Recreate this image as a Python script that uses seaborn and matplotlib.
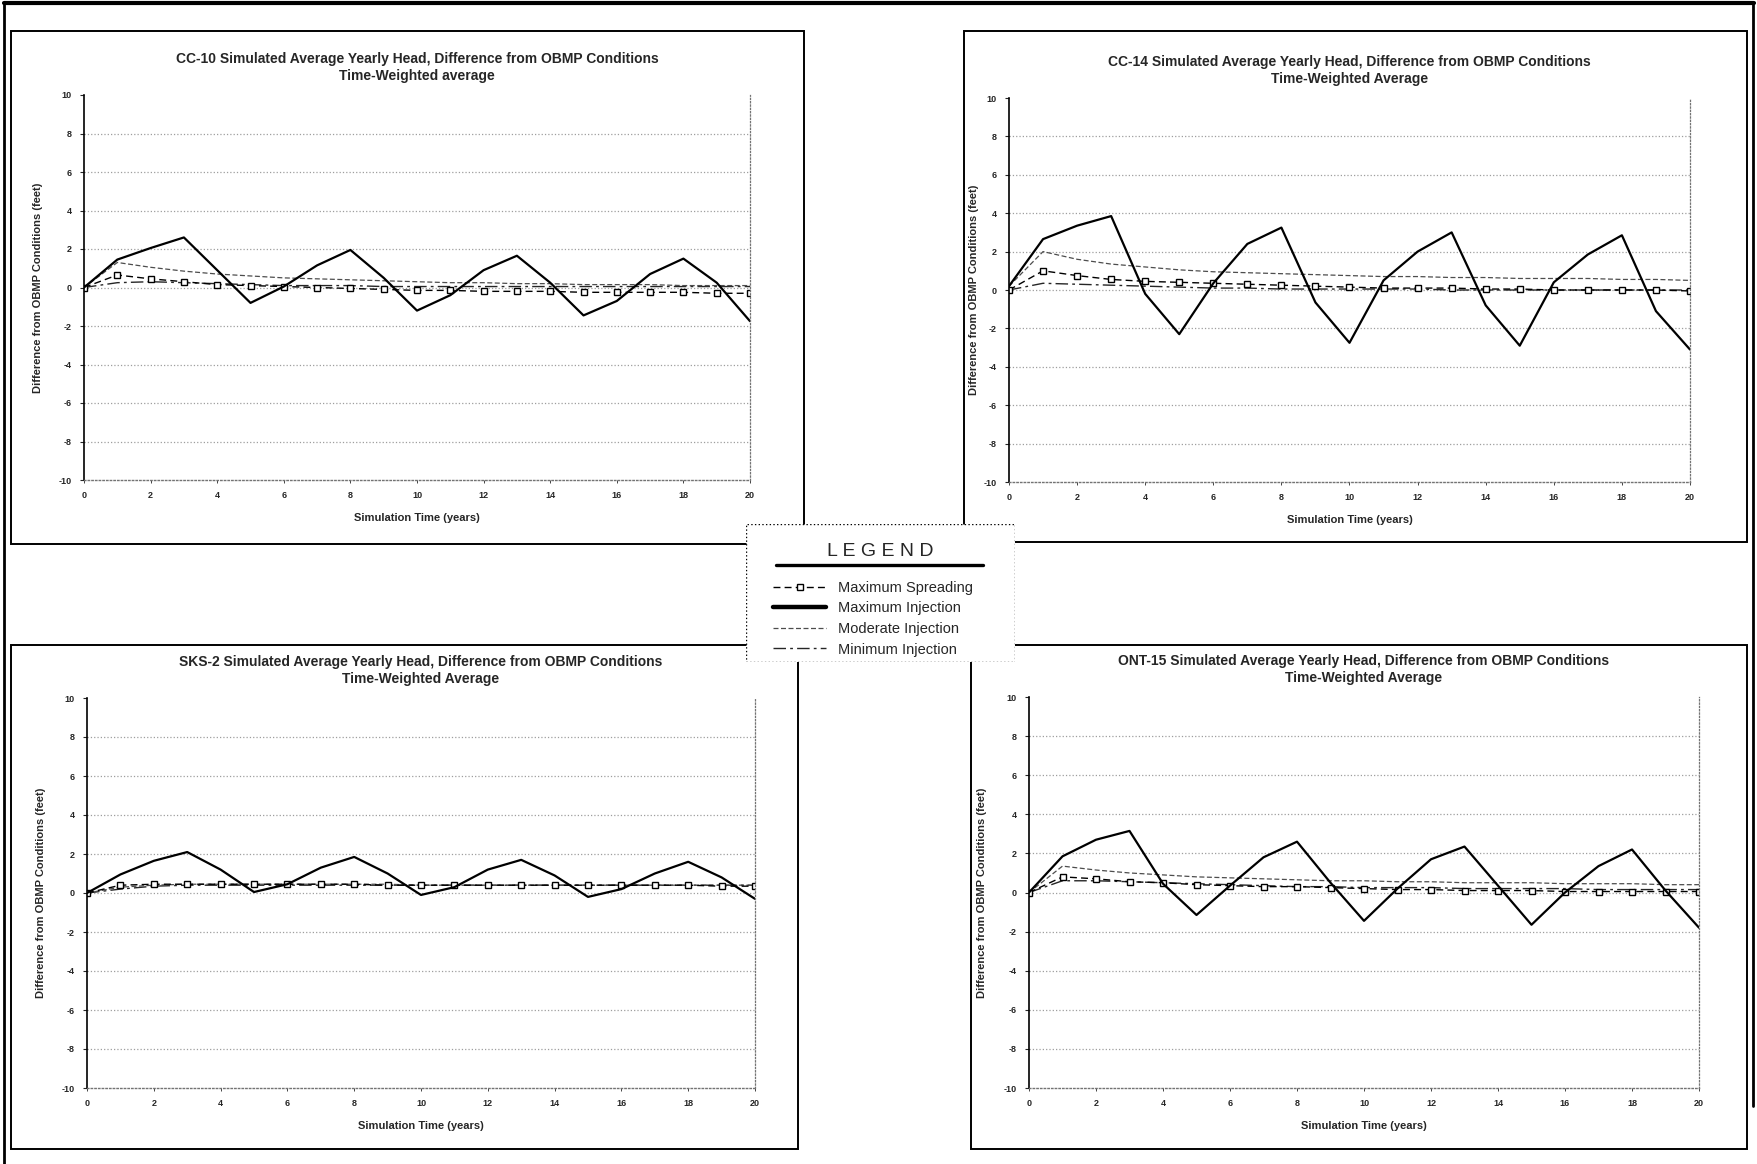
import matplotlib
matplotlib.use("Agg")
import matplotlib.pyplot as plt
import matplotlib.lines as mlines
from matplotlib.patches import Rectangle
import seaborn as sns

# --- data (feet, difference from OBMP) ---
years = list(range(21))
x_ticks = list(range(0, 21, 2))
y_ticks = list(range(-10, 11, 2))

cc10_max_spread = [0.0, 0.65, 0.45, 0.3, 0.15, 0.1, 0.05, 0.0, -0.05, -0.1, -0.15,
                   -0.15, -0.2, -0.2, -0.2, -0.25, -0.25, -0.25, -0.25, -0.3, -0.3]
cc10_max_inj = [0.0, 1.45, 2.05, 2.6, 0.9, -0.8, 0.05, 1.15, 1.95, 0.5, -1.2,
                -0.4, 0.9, 1.65, 0.25, -1.45, -0.7, 0.7, 1.5, 0.25, -1.75]
cc10_mod_inj = [0.0, 1.3, 1.05, 0.85, 0.7, 0.6, 0.5, 0.45, 0.4, 0.35, 0.3,
                0.25, 0.25, 0.2, 0.2, 0.15, 0.15, 0.15, 0.1, 0.1, 0.1]
cc10_min_inj = [0.0, 0.25, 0.3, 0.25, 0.2, 0.15, 0.1, 0.1, 0.1, 0.05, 0.05,
                0.05, 0.05, 0.05, 0.05, 0.05, 0.05, 0.05, 0.05, 0.05, 0.05]

cc14_max_spread = [0.0, 1.0, 0.75, 0.55, 0.45, 0.4, 0.35, 0.3, 0.25, 0.2, 0.15,
                   0.1, 0.1, 0.1, 0.05, 0.05, 0.0, 0.0, 0.0, 0.0, -0.05]
cc14_max_inj = [0.2, 2.65, 3.35, 3.85, -0.2, -2.3, 0.35, 2.4, 3.25, -0.65, -2.75,
                0.5, 2.0, 3.0, -0.8, -2.9, 0.4, 1.85, 2.85, -1.1, -3.1]
cc14_mod_inj = [0.2, 2.0, 1.6, 1.35, 1.2, 1.05, 0.95, 0.9, 0.85, 0.8, 0.75,
                0.7, 0.7, 0.65, 0.65, 0.6, 0.6, 0.6, 0.55, 0.55, 0.5]
cc14_min_inj = [0.0, 0.35, 0.3, 0.25, 0.2, 0.15, 0.1, 0.1, 0.05, 0.05, 0.05,
                0.05, 0.05, 0.0, 0.0, 0.0, 0.0, 0.0, 0.0, 0.0, 0.0]

sks2_max_spread = [0.0, 0.4, 0.45, 0.45, 0.45, 0.45, 0.45, 0.45, 0.45, 0.4, 0.4,
                   0.4, 0.4, 0.4, 0.4, 0.4, 0.4, 0.4, 0.4, 0.35, 0.35]
sks2_max_inj = [0.0, 0.95, 1.65, 2.1, 1.2, 0.05, 0.45, 1.3, 1.85, 1.0, -0.1,
                0.3, 1.2, 1.7, 0.9, -0.2, 0.2, 1.0, 1.6, 0.8, -0.3]
sks2_mod_inj = [0.0, 0.3, 0.4, 0.45, 0.45, 0.45, 0.45, 0.45, 0.45, 0.45, 0.4,
                0.4, 0.4, 0.4, 0.4, 0.4, 0.4, 0.4, 0.4, 0.4, 0.4]
sks2_min_inj = [0.0, 0.2, 0.35, 0.4, 0.4, 0.4, 0.4, 0.4, 0.4, 0.4, 0.4,
                0.4, 0.4, 0.4, 0.4, 0.4, 0.4, 0.4, 0.4, 0.4, 0.4]

ont15_max_spread = [0.0, 0.8, 0.7, 0.55, 0.5, 0.4, 0.35, 0.3, 0.3, 0.25, 0.2,
                    0.15, 0.15, 0.1, 0.1, 0.1, 0.05, 0.05, 0.05, 0.05, 0.05]
ont15_max_inj = [0.0, 1.85, 2.7, 3.15, 0.45, -1.15, 0.35, 1.8, 2.6, 0.5, -1.45,
                 0.2, 1.7, 2.35, 0.35, -1.65, 0.0, 1.35, 2.2, 0.1, -1.8]
ont15_mod_inj = [0.0, 1.35, 1.15, 1.0, 0.9, 0.8, 0.75, 0.7, 0.65, 0.6, 0.6,
                 0.55, 0.55, 0.5, 0.5, 0.5, 0.45, 0.45, 0.45, 0.4, 0.4]
ont15_min_inj = [0.0, 0.6, 0.6, 0.55, 0.5, 0.45, 0.4, 0.35, 0.3, 0.3, 0.25,
                 0.25, 0.25, 0.2, 0.2, 0.2, 0.2, 0.15, 0.15, 0.15, 0.15]

titles = [
    "CC-10 Simulated Average Yearly Head, Difference from OBMP Conditions\nTime-Weighted average",
    "CC-14 Simulated Average Yearly Head, Difference from OBMP Conditions\nTime-Weighted Average",
    "SKS-2 Simulated Average Yearly Head, Difference from OBMP Conditions\nTime-Weighted Average",
    "ONT-15 Simulated Average Yearly Head, Difference from OBMP Conditions\nTime-Weighted Average",
]
legend_order = ["Maximum Spreading", "Maximum Injection", "Moderate Injection", "Minimum Injection"]

sns.set_theme(style="white")
plt.rcParams['font.family'] = ['Liberation Sans', 'DejaVu Sans']
plt.rcParams['axes.unicode_minus'] = False

fig = plt.figure(figsize=(17.58, 11.64), dpi=100)
W, H = 1758.0, 1164.0


def fig_rect(x0, y0, x1, y1):
    # pixel box (top-left origin) -> figure fraction [l, b, w, h]
    return [x0 / W, 1 - y1 / H, (x1 - x0) / W, (y1 - y0) / H]


axes_boxes = [(84, 95, 750, 480), (1009, 98, 1690, 482),
              (87, 698, 755, 1088), (1029, 697, 1699, 1088)]
frame_boxes = [(11, 31, 804, 544), (964, 31, 1747, 542),
               (11, 645, 798, 1149), (971, 645, 1747, 1149)]
ylabel_pads = [11, 3, 11, 12]
series = [
    (cc10_max_spread, cc10_max_inj, cc10_mod_inj, cc10_min_inj),
    (cc14_max_spread, cc14_max_inj, cc14_mod_inj, cc14_min_inj),
    (sks2_max_spread, sks2_max_inj, sks2_mod_inj, sks2_min_inj),
    (ont15_max_spread, ont15_max_inj, ont15_mod_inj, ont15_min_inj),
]

handles_by_label = {}
for box, title, pad, (spread, max_inj, mod_inj, min_inj) in zip(axes_boxes, titles, ylabel_pads, series):
    ax = fig.add_axes(fig_rect(*box))
    sns.lineplot(x=years, y=min_inj, ax=ax, color='0.15', linewidth=1.0,
                 linestyle=(0, (9, 3, 2, 3)), label='Minimum Injection')
    sns.lineplot(x=years, y=mod_inj, ax=ax, color='0.3', linewidth=0.9,
                 linestyle=(0, (4, 2)), label='Moderate Injection')
    sns.lineplot(x=years, y=spread, ax=ax, color='black', linewidth=1.0,
                 linestyle=(0, (5, 3)), marker='s', markersize=4.5,
                 markerfacecolor='white', markeredgecolor='black',
                 markeredgewidth=1.0, label='Maximum Spreading')
    sns.lineplot(x=years, y=max_inj, ax=ax, color='black', linewidth=1.6,
                 label='Maximum Injection')
    if ax.get_legend() is not None:
        ax.get_legend().remove()
    h, l = ax.get_legend_handles_labels()
    for hh, ll in zip(h, l):
        handles_by_label.setdefault(ll, hh)

    ax.set_xlim(0, 20)
    ax.set_ylim(-10, 10)
    ax.set_xticks(x_ticks)
    ax.set_yticks(y_ticks)
    ax.yaxis.grid(True, linestyle=':', color='0.62', linewidth=0.9)
    ax.xaxis.grid(False)
    ax.get_ygridlines()[-1].set_visible(False)
    ax.get_ygridlines()[0].set_visible(False)

    ax.spines['top'].set_visible(False)
    ax.spines['left'].set_color('black')
    ax.spines['left'].set_linewidth(1.2)
    ax.spines['bottom'].set_color('0.45')
    ax.spines['bottom'].set_linestyle(':')
    ax.spines['bottom'].set_linewidth(1.0)
    ax.spines['right'].set_color('0.45')
    ax.spines['right'].set_linestyle(':')
    ax.spines['right'].set_linewidth(0.9)

    ax.tick_params(axis='y', left=True, length=3, width=0.8, labelsize=6.5, pad=6)
    ax.tick_params(axis='x', bottom=True, length=2, width=0.6, labelsize=6.5, pad=6)
    for lab in ax.get_xticklabels() + ax.get_yticklabels():
        lab.set_fontweight('bold')

    ax.set_title(title, fontsize=10, fontweight='bold', pad=11, linespacing=1.25)
    ax.set_xlabel('Simulation Time (years)', fontsize=8, fontweight='bold', labelpad=9)
    ax.set_ylabel('Difference from OBMP Conditions (feet)', fontsize=8,
                  fontweight='bold', labelpad=pad)

# panel frames
for fb in frame_boxes:
    l, b, w, h = fig_rect(*fb)
    fig.add_artist(Rectangle((l, b), w, h, transform=fig.transFigure, fill=False,
                             edgecolor='black', linewidth=1.4, zorder=1))

# page border
fig.add_artist(mlines.Line2D([0.002, 0.998], [0.997, 0.997], transform=fig.transFigure,
                             color='black', linewidth=3))
fig.add_artist(mlines.Line2D([0.002, 0.002], [0.0, 0.997], transform=fig.transFigure,
                             color='black', linewidth=2))
fig.add_artist(mlines.Line2D([0.997, 0.997], [0.05, 0.997], transform=fig.transFigure,
                             color='black', linewidth=2))

# legend box in the middle
lax = fig.add_axes(fig_rect(746, 524, 1015, 662))
lax.set_zorder(5)
lax.set_xlim(0, 1)
lax.set_ylim(0, 1)
lax.axis('off')
lax.add_patch(Rectangle((0, 0), 1, 1, transform=lax.transAxes, facecolor='white',
                        edgecolor='black', linewidth=1.0, linestyle=':'))
lax.text(0.5, 0.80, 'L E G E N D', ha='center', va='center', fontsize=14)
lax.plot([0.11, 0.88], [0.705, 0.705], color='black', linewidth=2.4)
leg = lax.legend([handles_by_label[k] for k in legend_order], legend_order,
                 loc='upper left', bbox_to_anchor=(0.08, 0.63), frameon=False,
                 fontsize=10.5, handlelength=3.6, labelspacing=0.45, borderaxespad=0,
                 handletextpad=0.8)
leg.get_lines()[1].set_linewidth(3.2)

fig.savefig('out.png', dpi=100, facecolor='white')
